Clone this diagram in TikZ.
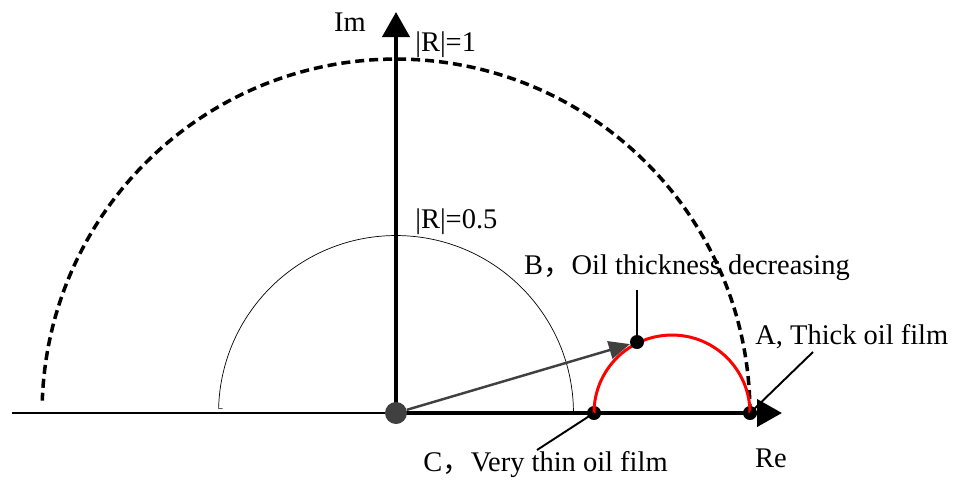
\documentclass[tikz,border=0pt]{standalone}
\usepackage{fontspec}
\setmainfont{Liberation Serif}
\newfontfamily\cjk{Noto Sans CJK SC}
\usetikzlibrary{arrows.meta, positioning}

\begin{document}
\begin{tikzpicture}[x=0.02cm, y=-0.02cm,
    axis/.style={line width=2.3pt, -{Triangle[length=0.5cm, width=0.54cm]}},
    dot/.style={circle, fill=black, inner sep=0pt, minimum size=0.28cm},
    leader/.style={line width=1.1pt},
    lbl/.style={font=\fontsize{16.2}{19}\selectfont, inner sep=0pt}]
    \useasboundingbox (0,0) rectangle (954,481);
    % points
    \coordinate (O) at (396,413);
    \coordinate (Left) at (12,413);
    \coordinate (ImEnd) at (396,12);
    \coordinate (ReEnd) at (782,413);
    % negative real axis
    \draw[line width=1pt] (Left) -- (O);
    % |R|=1 circle
    \draw[line width=2pt, dash pattern=on 0.18cm off 0.1cm] ([xshift=7.08cm]O) arc[start angle=0, end angle=178, radius=7.08cm];
    % |R|=0.5 circle
    \draw[line width=0.4pt] ([xshift=3.55cm]O) arc[start angle=0, end angle=178.5, radius=3.55cm] -- ++(0.08cm,0);
    % axes
    \draw[axis] (O) -- (ImEnd);
    \draw[axis] (O) -- (ReEnd);
    % red locus
    \node[dot] (C) at (594,413) {};
    \node[dot] (A) at (750,413) {};
    \draw[red, line width=1.7pt] (C.center) arc[start angle=180, end angle=0, radius=1.56cm];
    \node[dot] (B) at (637,342) {};
    \node[circle, fill=black!75, inner sep=0pt, minimum size=0.44cm] (Odot) at (O) {};
    % reflection vector
    \draw[black!75, line width=1.4pt, -{Triangle[length=0.42cm, width=0.36cm]}] (Odot) -- (B);
    % leaders
    \coordinate (Bl) at (637,290);
    \coordinate (Al) at (813,352);
    \coordinate (Cl) at (537,450);
    \draw[leader] (Bl) -- (B);
    \draw[leader] (Al) -- (A.center);
    \draw[leader] (Cl) -- (C.center);
    % labels
    \node[lbl, anchor=east] (Im) at (366,22) {Im};
    \node[lbl] (Re) at (771,458) {Re};
    \node[lbl, anchor=west] (R1) at (415,45) {|R|=1};
    \node[lbl, anchor=west] (R05) at (415,222) {|R|=0.5};
    \node[lbl] (Btxt) at (687,268) {B{\cjk ，}Oil thickness decreasing};
    \node[lbl, anchor=west] (Atxt) at (755,337) {A, Thick oil film};
    \node[lbl, anchor=west] (Ctxt) at (423,465) {C{\cjk ，}Very thin oil film};
\end{tikzpicture}
\end{document}
